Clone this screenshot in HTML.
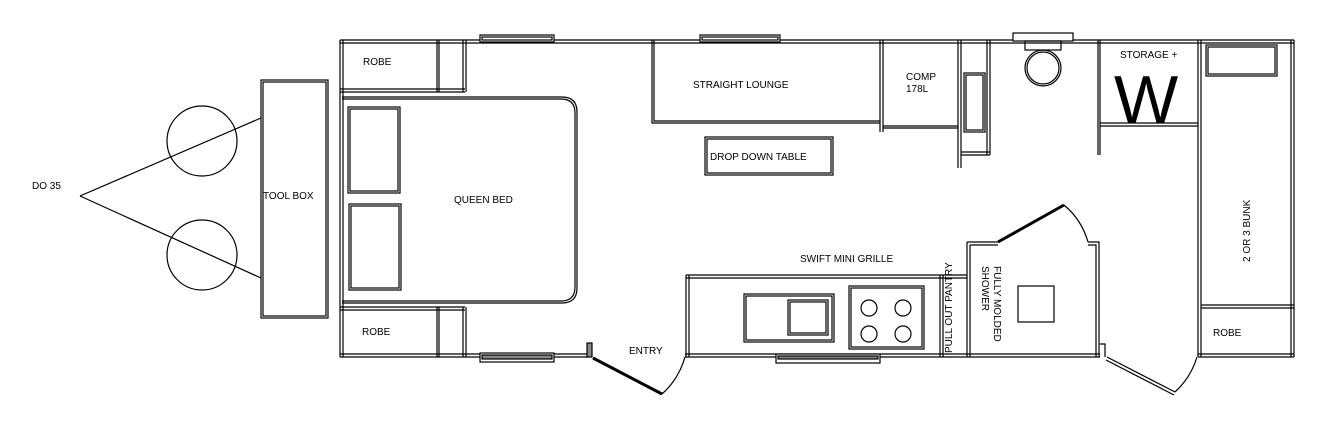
<!DOCTYPE html>
<html><head><meta charset="utf-8"><style>
html,body{margin:0;padding:0;background:#fff;}
svg{display:block;}
text{font-family:"Liberation Sans",Arial,sans-serif;font-size:10px;fill:#000;}
</style></head><body>
<svg width="1323" height="424" viewBox="0 0 1323 424" xmlns="http://www.w3.org/2000/svg">
<g fill="none" stroke="#000" stroke-width="1.2">
<line x1="80" y1="196" x2="261" y2="118"/>
<line x1="80" y1="196" x2="261" y2="278"/>
<circle cx="202" cy="141" r="35"/>
<circle cx="202" cy="255" r="35"/>
<rect x="261" y="80" width="67" height="238"/>
<rect x="263" y="82" width="63" height="234"/>
<path d="M340 40 H1294 M340 43 H1294"/>
<path d="M340 40 V357 M343 40 V357"/>
<path d="M1291 40 V357 M1294 40 V357"/>
<path d="M340 354 H588 M340 357 H588"/>
<path d="M685 354 H1100 M685 357 H1100"/>
<path d="M1198 354 H1294 M1198 357 H1294"/>
<rect x="480" y="35" width="74" height="7" fill="#fff"/><rect x="482" y="37" width="70" height="3"/>
<rect x="700" y="35" width="80" height="7" fill="#fff"/><rect x="702" y="37" width="76" height="3"/>
<rect x="480" y="353" width="74" height="9" fill="#fff"/><rect x="482" y="355" width="70" height="4" fill="#888"/>
<rect x="776" y="354" width="104" height="9" fill="#fff"/><rect x="778" y="356" width="100" height="3" fill="#888"/>
<rect x="1013" y="33" width="60" height="8" fill="#fff"/><rect x="1025" y="41" width="36" height="9"/>
<circle cx="1043" cy="68" r="18"/><circle cx="1043" cy="68" r="16"/>
<path d="M340 89 H465 M340 92 H465 M437 40 V92 M439 40 V92 M463 40 V92 M466 40 V92"/>
<path d="M340 307 H465 M340 310 H465 M437 307 V357 M439 307 V357 M463 307 V357 M466 307 V357"/>
<path d="M342 97 H562 Q577 97 577 112 V288 Q577 303 562 303 H342"/>
<path d="M342 99 H561 Q575 99 575 113 V287 Q575 301 561 301 H342"/>
<rect x="348" y="107" width="52" height="86"/><rect x="350" y="109" width="48" height="82"/>
<rect x="349" y="204" width="52" height="86"/><rect x="351" y="206" width="48" height="82"/>
<path d="M652 40 V123 H880 M654 40 V121 H880"/>
<rect x="705" y="137" width="128" height="38"/><rect x="707" y="139" width="124" height="34"/>
<path d="M880 40 V132 M883 40 V132 M883 126 H958 M883 128 H958"/>
<path d="M958 40 V168 M961 40 V168 M961 152 H990 M961 155 H990 M987 40 V155 M990 40 V155"/>
<rect x="964" y="73" width="21" height="59"/><rect x="966" y="75" width="17" height="55"/>
<path d="M1098 40 V155 M1100 40 V155 M1100 123 H1198 M1100 126 H1198 M1198 40 V357 M1201 40 V357"/>
<path d="M1201 305 H1294 M1201 308 H1294"/>
<rect x="1206" y="45" width="71" height="31"/><rect x="1208" y="47" width="67" height="27"/>
<path d="M686 275 V357 M689 275 V357 M686 275 H967 M686 278 H967"/>
<path d="M940 275 V357 M943 275 V357"/>
<rect x="744" y="294" width="90" height="48"/><rect x="746" y="296" width="86" height="44"/>
<rect x="788" y="300" width="40" height="35"/><rect x="790" y="302" width="36" height="31"/>
<rect x="849" y="286" width="75" height="63"/><rect x="851" y="288" width="71" height="59"/>
<circle cx="869" cy="308" r="8"/><circle cx="903" cy="308" r="8"/><circle cx="869" cy="334" r="8"/><circle cx="903" cy="334" r="8"/>
<path d="M967 242 V357 M970 245 V357 M967 242 H998 M970 245 H998"/>
<path d="M1088 242 H1099 V357 M1088 245 H1096 V357"/>
<line x1="998" y1="242" x2="1064" y2="205" stroke-width="3"/>
<path d="M1064 205 A75 75 0 0 1 1088 242"/>
<rect x="1018" y="286" width="36" height="36"/>
<rect x="587" y="343" width="5" height="14" fill="#888"/>
<line x1="593" y1="358" x2="662" y2="394" stroke-width="3"/>
<path d="M662 394 A78 78 0 0 0 685 357"/>
<path d="M1100 344 H1105 V357"/>
<path d="M1107 357 L1175 392 M1106 360 L1174 395"/>
<path d="M1175 392 A78 78 0 0 0 1197 357"/>
</g>
<text x="32" y="189">DO 35</text>
<text x="263" y="199">TOOL BOX</text>
<text x="363" y="65">ROBE</text>
<text x="362" y="335">ROBE</text>
<text x="454" y="203">QUEEN BED</text>
<text x="693" y="88">STRAIGHT LOUNGE</text>
<text x="710" y="160">DROP DOWN TABLE</text>
<text x="906" y="80">COMP</text>
<text x="906" y="92">178L</text>
<text x="1120" y="58">STORAGE  +</text>
<text x="1114" y="123" style="font-size:68px">W</text>
<text x="800" y="262">SWIFT MINI GRILLE</text>
<text x="629" y="354">ENTRY</text>
<text x="1213" y="336">ROBE</text>
<text transform="translate(1250,262) rotate(-90)">2 OR 3 BUNK</text>
<text transform="translate(952,353) rotate(-90)">PULL OUT PANTRY</text>
<text transform="translate(994,266) rotate(90)">FULLY MOLDED</text>
<text transform="translate(982,266) rotate(90)">SHOWER</text>
</svg>
</body></html>
